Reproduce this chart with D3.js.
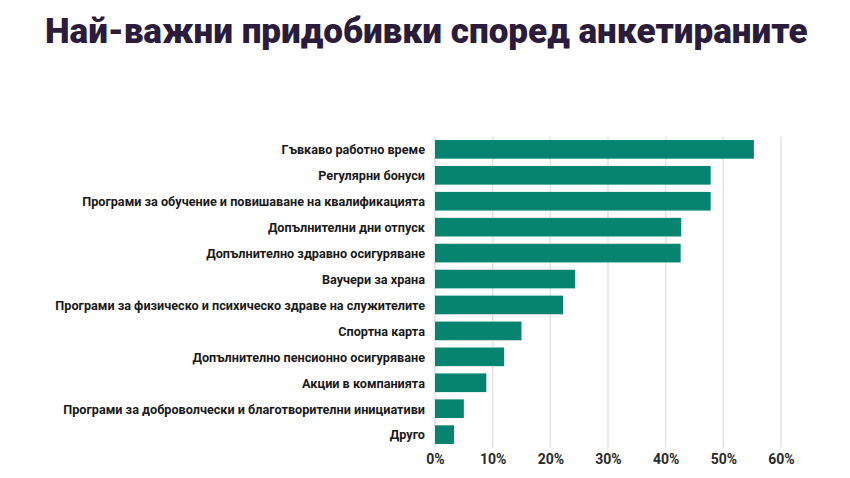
<!DOCTYPE html>
<html>
<head>
<meta charset="utf-8">
<script src="https://cdn.jsdelivr.net/npm/d3@7"></script>
<style>
  html, body { margin: 0; padding: 0; background: #ffffff; }
  svg { display: block; }
</style>
</head>
<body>
<svg id="chart" width="850" height="478"></svg>
<script>
const title = "Най-важни придобивки според анкетираните";
const categories = [
  "Гъвкаво работно време",
  "Регулярни бонуси",
  "Програми за обучение и повишаване на квалификацията",
  "Допълнителни дни отпуск",
  "Допълнително здравно осигуряване",
  "Ваучери за храна",
  "Програми за физическо и психическо здраве на служителите",
  "Спортна карта",
  "Допълнително пенсионно осигуряване",
  "Акции в компанията",
  "Програми за доброволчески и благотворителни инициативи",
  "Друго"
];
const values = [55.3, 47.8, 47.8, 42.7, 42.6, 24.3, 22.2, 15.0, 12.0, 8.9, 5.0, 3.3];
const tickValues = [0, 10, 20, 30, 40, 50, 60];

const svg = d3.select("#chart");
const barColor = "#07846f";

const x = d3.scaleLinear().domain([0, 60]).range([435, 781]);
const y = d3.scaleBand().domain(categories).range([136.4, 447.6])
  .paddingInner(0.28).paddingOuter(0.14);

// Title
const t = svg.append("text")
  .attr("x", 45).attr("y", 43)
  .attr("font-family", "Roboto, 'DejaVu Sans', sans-serif")
  .attr("font-weight", 900)
  .attr("font-size", 35.5)
  .attr("fill", "#2b1c3c")
  .text(title);
const tw = t.node().getComputedTextLength();
const tk = 763 / tw;
t.attr("transform", `translate(45,0) scale(${tk},1) translate(-45,0)`);

// Gridlines
svg.append("g")
  .selectAll("line")
  .data(tickValues)
  .join("line")
  .attr("x1", d => x(d)).attr("x2", d => x(d))
  .attr("y1", y.range()[0]).attr("y2", y.range()[1])
  .attr("stroke", "#e3e3e3")
  .attr("stroke-width", 1.5);

// Bars
svg.append("g")
  .selectAll("rect")
  .data(values)
  .join("rect")
  .attr("x", x(0))
  .attr("y", (d, i) => y(categories[i]))
  .attr("width", d => x(d) - x(0))
  .attr("height", y.bandwidth())
  .attr("fill", barColor);

// Category labels
const lg = svg.append("g");
const labels = lg.selectAll("text")
  .data(categories)
  .join("text")
  .attr("text-anchor", "end")
  .attr("font-family", "Roboto, 'DejaVu Sans', sans-serif")
  .attr("font-weight", 700)
  .attr("font-size", 13.5)
  .attr("fill", "#1a1a1a")
  .attr("y", d => y(d) + y.bandwidth() / 2)
  .attr("dy", "0.36em")
  .text(d => d);
let maxLen = 0;
labels.each(function() { maxLen = Math.max(maxLen, this.getComputedTextLength()); });
const lk = 370 / maxLen;
labels.attr("transform", `translate(425,0) scale(${lk},1)`).attr("x", 0);

// X axis tick labels
const axis = d3.axisBottom(x).tickValues(tickValues).tickSize(0).tickFormat(d => d + "%");
const ag = svg.append("g").attr("transform", "translate(0,448)").call(axis);
ag.select(".domain").remove();
ag.selectAll("text")
  .attr("font-family", "Roboto, 'DejaVu Sans', sans-serif")
  .attr("font-weight", 700)
  .attr("font-size", 14)
  .attr("fill", "#2a2a2a")
  .attr("dy", "0.75em")
  .attr("y", 5);
</script>
</body>
</html>
